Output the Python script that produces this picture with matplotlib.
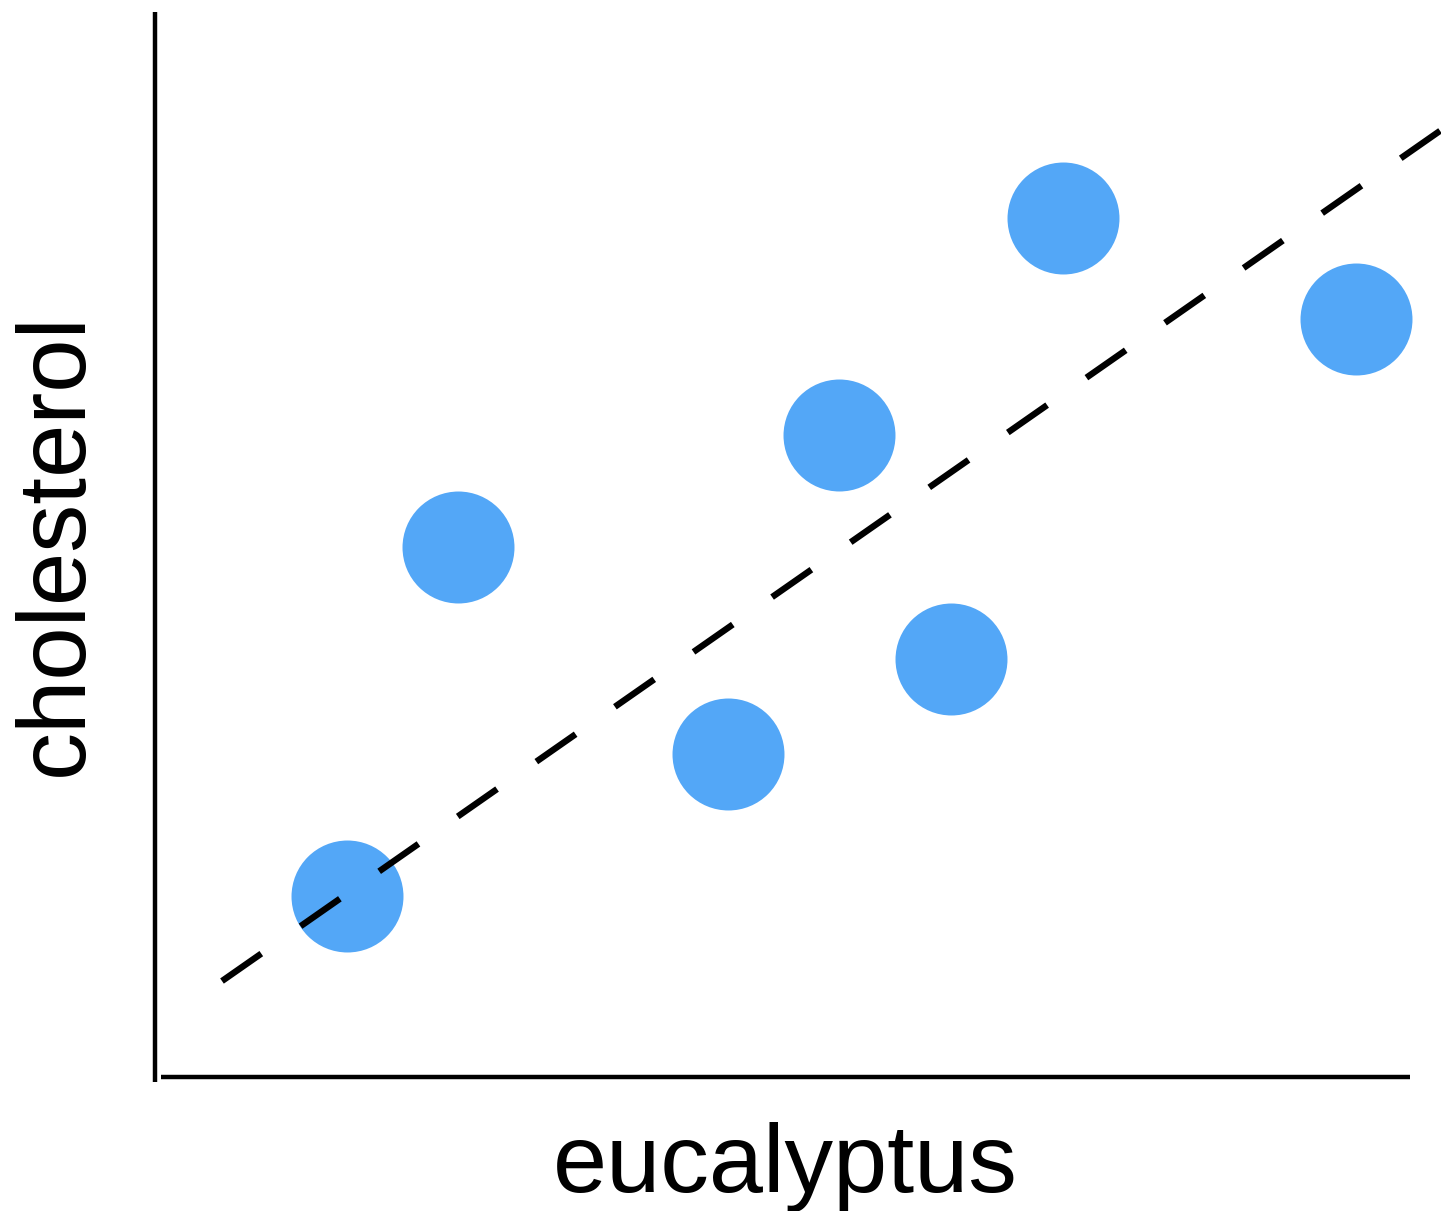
import matplotlib.pyplot as plt

plt.rcParams['font.family'] = ['Liberation Sans', 'DejaVu Sans']
plt.rcParams['lines.scale_dashes'] = False

# eucalyptus vs cholesterol (arbitrary units)
eucalyptus = [1.92, 3.03, 5.73, 6.84, 7.96, 9.08, 12.01]
cholesterol = [1.81, 5.30, 3.23, 6.42, 4.18, 8.59, 7.58]

# dashed trend line: cholesterol = intercept + slope * eucalyptus
line_intercept = 0.492
line_slope = 0.698
line_x = [0.67, 13.2]

fig = plt.figure(figsize=(14.41, 12.11), dpi=100)
ax = fig.add_axes([155 / 1441, (1211 - 1082) / 1211, 1 - 155 / 1441, 1082 / 1211])
ax.set_xlim(0, 12.86)
ax.set_ylim(-0.05, 10.77)

ax.scatter(eucalyptus, cholesterol, s=6500, color='#53a7f7', linewidths=0, zorder=2)
line_y = [line_intercept + line_slope * x for x in line_x]
ax.plot(line_x, line_y, color='black', lw=4.6, dashes=(34.5, 34.5),
        dash_capstyle='butt', zorder=3)

for side in ['top', 'right']:
    ax.spines[side].set_visible(False)
ax.spines['left'].set_position(('data', 0))
ax.spines['left'].set_bounds(-0.05, 10.65)
ax.spines['bottom'].set_position(('data', 0))
ax.spines['bottom'].set_bounds(0.06, 12.55)
for side in ['left', 'bottom']:
    ax.spines[side].set_linewidth(3.2)
    ax.spines[side].set_capstyle('butt')
ax.set_xticks([])
ax.set_yticks([])
ax.patch.set_alpha(0)

fig.text(785 / 1441, 1 - 1192 / 1211, 'eucalyptus', fontsize=70,
         ha='center', va='baseline')
fig.text(57 / 1441, 1 - 544 / 1211, 'cholesterol', fontsize=69,
         rotation=90, ha='center', va='center')

fig.savefig('out.png', dpi=100)
